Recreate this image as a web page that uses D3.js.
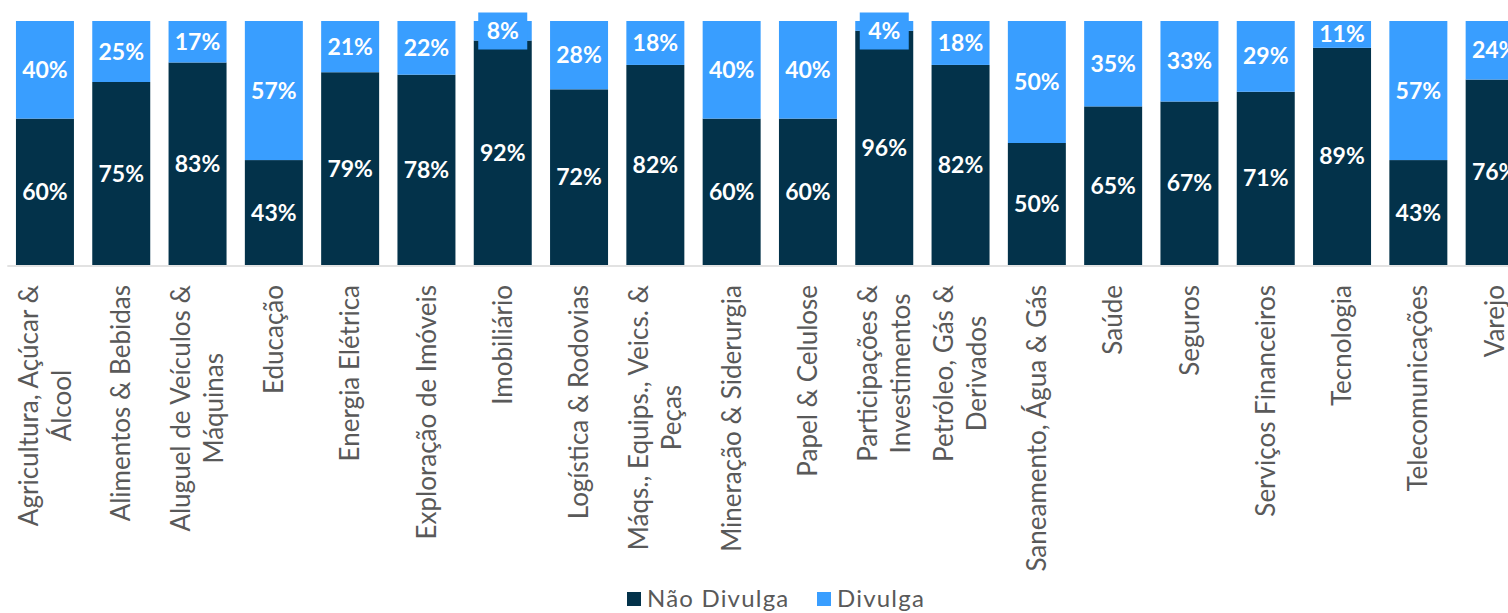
<!DOCTYPE html>
<html>
<head>
<meta charset="utf-8">
<script src="https://cdn.jsdelivr.net/npm/d3@7"></script>
<style>
  body { margin: 0; overflow: hidden; background: #fff; }
  text { font-family: Lato, "Open Sans", sans-serif; }
</style>
</head>
<body>
<svg id="chart" width="1508" height="613"></svg>
<script>
const categories = [
  'Agricultura', 'Alimentos', 'Aluguel', 'Educação', 'Energia', 'Exploração',
  'Imobiliário', 'Logística', 'Máqs', 'Mineração', 'Papel', 'Participações',
  'Petróleo', 'Saneamento', 'Saúde', 'Seguros', 'Serviços', 'Tecnologia',
  'Telecomunicações', 'Varejo'
];
const tickLabels = [
  ['Agricultura, Açúcar &', 'Álcool'],
  ['Alimentos & Bebidas'],
  ['Aluguel de Veículos &', 'Máquinas'],
  ['Educação'],
  ['Energia Elétrica'],
  ['Exploração de Imóveis'],
  ['Imobiliário'],
  ['Logística & Rodovias'],
  ['Máqs., Equips., Veics. &', 'Peças'],
  ['Mineração & Siderurgia'],
  ['Papel & Celulose'],
  ['Participações &', 'Investimentos'],
  ['Petróleo, Gás &', 'Derivados'],
  ['Saneamento, Água & Gás'],
  ['Saúde'],
  ['Seguros'],
  ['Serviços Financeiros'],
  ['Tecnologia'],
  ['Telecomunicações'],
  ['Varejo']
];
const naoDivulga = [60, 75, 83, 43, 79, 78, 92, 72, 82, 60, 60, 96, 82, 50, 65, 67, 71, 89, 43, 76];
const divulga    = [40, 25, 17, 57, 21, 22,  8, 28, 18, 40, 40,  4, 18, 50, 35, 33, 29, 11, 57, 24];
const seriesNames = ['Não Divulga', 'Divulga'];
const seriesColors = ['#03324A', '#399EFF'];

const svg = d3.select('#chart');
const axisY = 265.5;
const plotTop = 21;
const labelTop = 285;
const lineH = 33;

const rows = categories.map((c, i) => ({ cat: c, nao: naoDivulga[i], div: divulga[i] }));
const stack = d3.stack().keys(['nao', 'div']);
const stacked = stack(rows);

const x = d3.scaleBand()
  .domain(categories)
  .range([6.8, 6.8 + 20 * 76.3])
  .paddingInner(0.24)
  .paddingOuter(0.12);

const y = d3.scaleLinear()
  .domain([0, 100])
  .range([axisY - 0.5, plotTop]);

// bars
const layers = svg.append('g')
  .selectAll('g')
  .data(stacked)
  .enter()
  .append('g')
  .attr('fill', (d, i) => seriesColors[i]);

layers.selectAll('rect')
  .data((d) => d)
  .enter()
  .append('rect')
  .attr('x', (d) => x(d.data.cat))
  .attr('y', (d) => y(d[1]))
  .attr('width', x.bandwidth())
  .attr('height', (d) => y(d[0]) - y(d[1]));

// axis
const axisG = svg.append('g')
  .attr('transform', `translate(0, ${axisY})`)
  .call(d3.axisBottom(x).tickSize(0).tickSizeOuter(0));

axisG.select('.domain')
  .attr('stroke', '#d9d9d9')
  .attr('stroke-width', 1.5);

axisG.selectAll('.tick text').each(function (d, i) {
  const t = d3.select(this)
    .text(null)
    .attr('y', null)
    .attr('dy', null)
    .attr('text-anchor', 'middle')
    .attr('fill', '#595959')
    .style('font-size', '26px');
  const lines = tickLabels[i];
  lines.forEach((ln, j) => {
    t.append('tspan')
      .attr('x', 0)
      .attr('y', (j - (lines.length - 1) / 2) * lineH)
      .attr('dy', '0.35em')
      .text(ln);
  });
  const L = d3.max(t.selectAll('tspan').nodes(), (n) => n.getComputedTextLength());
  t.attr('transform', `translate(0, ${labelTop - axisY + L / 2}) rotate(-90)`);
});

// value labels
layers.each(function (layer, li) {
  const g = d3.select(this);
  layer.forEach((d) => {
    const v = d[1] - d[0];
    const cx = x(d.data.cat) + x.bandwidth() / 2;
    let cy = (y(d[0]) + y(d[1])) / 2;
    if (v < 10) {
      cy = Math.max(cy, 31);
      g.append('rect')
        .attr('x', cx - 24.5)
        .attr('y', cy - 18.5)
        .attr('width', 49)
        .attr('height', 37)
        .attr('fill', seriesColors[li]);
    }
    g.append('text')
      .attr('x', cx)
      .attr('y', cy)
      .attr('dy', '0.35em')
      .attr('text-anchor', 'middle')
      .attr('fill', '#fff')
      .style('font-size', '23px')
      .style('font-weight', 'bold')
      .text(`${v}%`);
  });
});

// legend
const legend = svg.append('g');
const legendX = [627, 817];
seriesNames.forEach((name, i) => {
  legend.append('rect')
    .attr('x', legendX[i])
    .attr('y', 592)
    .attr('width', 14)
    .attr('height', 14)
    .attr('fill', seriesColors[i]);
  legend.append('text')
    .attr('x', legendX[i] + 20)
    .attr('y', 607)
    .attr('fill', '#595959')
    .style('font-size', '24px')
    .style('letter-spacing', '1.2px')
    .text(name);
});
</script>
</body>
</html>
